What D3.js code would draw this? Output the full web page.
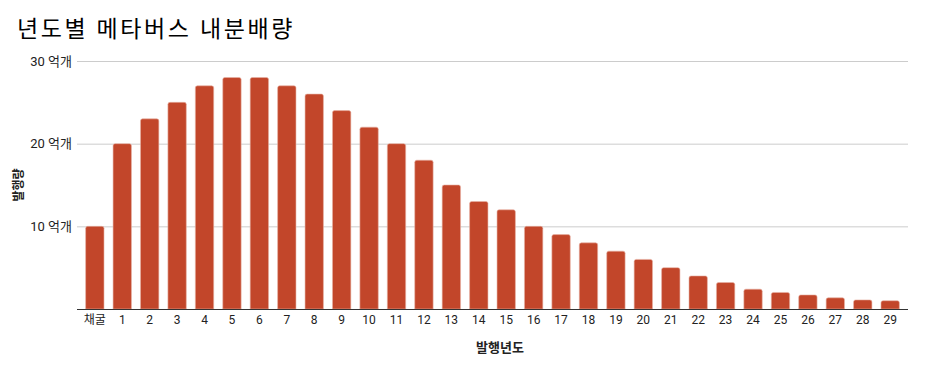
<!DOCTYPE html>
<html>
<head>
<meta charset="utf-8">
<script src="https://cdn.jsdelivr.net/npm/d3@7"></script>
<style>
  body { margin: 0; background: #fff; }
  text { font-family: Roboto, "Noto Sans CJK KR", sans-serif; }
</style>
</head>
<body>
<svg id="chart" width="930" height="377"></svg>
<script>
// data
let categories = ['채굴', '1', '2', '3', '4', '5', '6', '7', '8', '9', '10', '11', '12', '13', '14',
    '15', '16', '17', '18', '19', '20', '21', '22', '23', '24', '25', '26', '27', '28', '29']
let values = [10, 20, 23, 25, 27, 28, 28, 27, 26, 24, 22, 20, 18, 15, 13,
    12, 10, 9, 8, 7, 6, 5, 4, 3.2, 2.4, 2, 1.7, 1.35, 1.1, 1]
let yTicks = [10, 20, 30]

function main() {
    let svg = d3.select('#chart'),
        left = 77, right = 908, top = 61, bottom = 309

    let x = d3.scaleBand()
        .domain(categories)
        .range([left, right])
        .paddingInner(0.33)
        .paddingOuter(0.315)

    let y = d3.scaleLinear().domain([0, 30]).range([bottom, top])

    // title
    svg.append('text')
        .attr('x', 17)
        .attr('y', 37)
        .attr('font-size', 23)
        .attr('letter-spacing', 2.6)
        .attr('fill', '#000')
        .text('년도별 메타버스 내분배량')

    // gridlines + y labels
    let grid = svg.append('g')
    grid.selectAll('line')
        .data(yTicks)
        .enter().append('line')
        .attr('x1', left).attr('x2', right)
        .attr('y1', d => y(d) + 0.5).attr('y2', d => y(d) + 0.5)
        .attr('stroke', '#cccccc')

    grid.selectAll('text')
        .data(yTicks)
        .enter().append('text')
        .attr('x', 72)
        .attr('y', d => y(d) + 4.5)
        .attr('text-anchor', 'end')
        .attr('font-size', 13)
        .attr('fill', '#222')
        .text(d => d + ' 억개')

    // bars with rounded tops
    const r = 2
    svg.append('g').selectAll('path')
        .data(values)
        .enter().append('path')
        .attr('fill', '#c2462a')
        .attr('stroke', '#e8b3a6')
        .attr('stroke-width', 0.6)
        .attr('d', function (d, i) {
            let x0 = x(categories[i]), w = x.bandwidth(), y0 = y(d), h = bottom - y0
            let rr = Math.min(r, h)
            return 'M' + x0 + ',' + bottom +
                'V' + (y0 + rr) +
                'Q' + x0 + ',' + y0 + ' ' + (x0 + rr) + ',' + y0 +
                'H' + (x0 + w - rr) +
                'Q' + (x0 + w) + ',' + y0 + ' ' + (x0 + w) + ',' + (y0 + rr) +
                'V' + bottom + 'Z'
        })

    // baseline
    svg.append('line')
        .attr('x1', left).attr('x2', right)
        .attr('y1', bottom + 0.5).attr('y2', bottom + 0.5)
        .attr('stroke', '#333')

    // x axis labels
    let xAxis = svg.append('g')
        .attr('transform', 'translate(0,' + bottom + ')')
        .call(d3.axisBottom(x).tickSize(0).tickPadding(6))
    xAxis.select('.domain').remove()
    xAxis.selectAll('text')
        .attr('font-size', 12)
        .attr('font-family', 'Roboto, "Noto Sans CJK KR", sans-serif')
        .attr('fill', '#222')

    // axis titles
    svg.append('text')
        .attr('x', 500)
        .attr('y', 352)
        .attr('text-anchor', 'middle')
        .attr('font-size', 13)
        .attr('font-weight', 'bold')
        .attr('fill', '#222')
        .text('발행년도')

    svg.append('text')
        .attr('transform', 'translate(23,' + 185 + ') rotate(-90)')
        .attr('text-anchor', 'middle')
        .attr('font-size', 12)
        .attr('font-weight', 'bold')
        .attr('fill', '#222')
        .text('발행량')
}

main()
</script>
</body>
</html>
